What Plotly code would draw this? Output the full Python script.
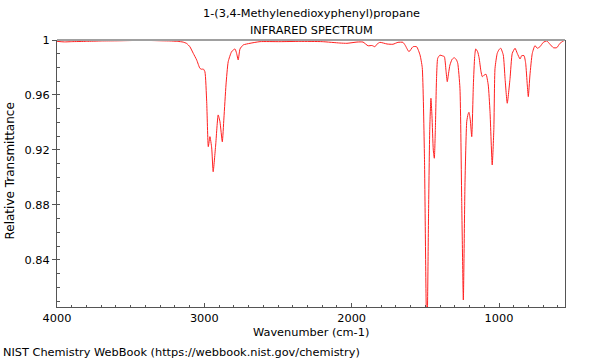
import plotly.graph_objects as go

wavenumber = [4000, 3950, 3900, 3800, 3700, 3600, 3500, 3420, 3350, 3280, 3234, 3180, 3145, 3120, 3098,
              3075, 3052, 3030, 3018, 3007, 2996, 2984, 2973, 2962, 2950, 2940, 2923, 2906, 2894, 2878,
              2867, 2853, 2838, 2815, 2792, 2781, 2770, 2758, 2736, 2690, 2622, 2486, 2351, 2200, 2080,
              2032, 1964, 1923, 1889, 1862, 1842, 1828, 1808, 1760, 1720, 1686, 1652, 1638, 1611, 1584,
              1559, 1536, 1521, 1506, 1493, 1488, 1478, 1470, 1462, 1455, 1446, 1439, 1432, 1424, 1416,
              1401, 1385, 1371, 1360, 1351, 1342, 1333, 1318, 1304, 1290, 1280, 1265, 1253, 1242, 1231,
              1219, 1210, 1204, 1195, 1185, 1174, 1165, 1158, 1145, 1135, 1122, 1113, 1100, 1088, 1073,
              1061, 1046, 1035, 1027, 1012, 1000, 988, 971, 959, 944, 925, 910, 891, 876, 857,
              846, 830, 819, 808, 801, 790, 774, 756, 740, 722, 699, 676, 654, 631, 608,
              586, 563, 552]
transmittance = [0.9990, 0.9986, 0.9988, 0.9990, 0.9993, 0.9994, 0.9996, 0.9998, 0.9996, 0.9994, 0.9993, 0.9990, 0.9985, 0.9975, 0.9951,
                 0.9903, 0.9855, 0.9794, 0.9787, 0.9789, 0.9769, 0.9551, 0.9224, 0.9297, 0.9215, 0.9042, 0.9236, 0.9455, 0.9406, 0.9260,
                 0.9433, 0.9673, 0.9842, 0.9915, 0.9935, 0.9903, 0.9855, 0.9935, 0.9964, 0.9976, 0.9988, 0.9988, 0.9990, 0.9988, 0.9978,
                 0.9976, 0.9985, 0.9985, 0.9958, 0.9960, 0.9951, 0.9970, 0.9983, 0.9971, 0.9969, 0.9983, 0.9983, 0.9964, 0.9915, 0.9951,
                 0.9951, 0.9891, 0.9800, 0.9150, 0.8000, 0.7900, 0.8750, 0.9350, 0.9576, 0.9450, 0.9200, 0.9140, 0.9350, 0.9720, 0.9867,
                 0.9890, 0.9885, 0.9879, 0.9780, 0.9697, 0.9760, 0.9818, 0.9860, 0.9871, 0.9858, 0.9831, 0.9649, 0.8824, 0.8109, 0.8945,
                 0.9406, 0.9460, 0.9474, 0.9420, 0.9297, 0.9673, 0.9880, 0.9935, 0.9915, 0.9870, 0.9769, 0.9733, 0.9745, 0.9751, 0.9673,
                 0.9479, 0.9091, 0.9350, 0.9794, 0.9903, 0.9930, 0.9940, 0.9891, 0.9721, 0.9540, 0.9721, 0.9903, 0.9940, 0.9903, 0.9862,
                 0.9886, 0.9886, 0.9831, 0.9673, 0.9588, 0.9745, 0.9903, 0.9959, 0.9940, 0.9951, 0.9983, 0.9993, 0.9969, 0.9944, 0.9944,
                 0.9976, 0.9993, 1.0000]

x_ticks = [4000, 3000, 2000, 1000]
y_ticks = [1.0, 0.96, 0.92, 0.88, 0.84]
y_tick_labels = ["1", "0.96", "0.92", "0.88", "0.84"]

title_lines = ["1-(3,4-Methylenedioxyphenyl)propane", "INFRARED SPECTRUM"]
x_title = "Wavenumber (cm-1)"
y_title = "Relative Transmittance"
footer = "NIST Chemistry WebBook (https://webbook.nist.gov/chemistry)"

FONT = "DejaVu Sans"
FS = 11.33
fig = go.Figure()
fig.add_trace(go.Scatter(x=wavenumber, y=transmittance, mode="lines",
                         line=dict(color="#ff2020", width=1, shape="spline", smoothing=0.5),
                         hoverinfo="skip", showlegend=False))

fig.update_layout(
    width=600, height=360,
    margin=dict(l=57, r=35, t=40, b=53),
    paper_bgcolor="white", plot_bgcolor="white",
    font=dict(family=FONT, size=FS, color="black"),
    showlegend=False,
)
fig.update_xaxes(range=[4000, 552], autorange=False, showgrid=False, zeroline=False,
                 showline=True, linecolor="#555555", linewidth=1, mirror=False,
                 tickvals=x_ticks, ticks="inside", ticklen=4, tickcolor="#555555",
                 minor=dict(dtick=100, ticks="inside", ticklen=2, tickcolor="#555555"),
                 tickfont=dict(size=FS))
fig.update_yaxes(range=[0.8058, 1.0], autorange=False, showgrid=False, zeroline=False,
                 showline=True, linecolor="#555555", linewidth=1, mirror=True,
                 tickvals=y_ticks, ticktext=y_tick_labels, ticks="outside", ticklen=4,
                 tickcolor="#555555",
                 minor=dict(dtick=0.01, tick0=1.0, ticks="inside", ticklen=3, tickcolor="#555555"),
                 tickfont=dict(size=FS))

fig.add_shape(type="line", xref="paper", yref="paper", x0=0, x1=1, y0=1, y1=1,
              line=dict(color="#a0a0a0", width=2))

fig.add_annotation(text=title_lines[0], xref="paper", yref="paper", x=0.5, y=1.101,
                   showarrow=False, yanchor="middle", font=dict(size=FS))
fig.add_annotation(text=title_lines[1], xref="paper", yref="paper", x=0.5, y=1.0375,
                   showarrow=False, yanchor="middle", font=dict(size=FS))
fig.add_annotation(text=x_title, xref="paper", yref="paper", x=0.5, y=-0.0936,
                   showarrow=False, yanchor="middle", font=dict(size=FS))
fig.add_annotation(text=y_title, xref="paper", yref="paper", x=-0.0925, y=0.5075,
                   textangle=-90, showarrow=False, xanchor="center", yanchor="middle",
                   font=dict(size=12))
fig.add_annotation(text=footer, xref="paper", yref="paper", x=-0.1102, y=-0.1685,
                   showarrow=False, xanchor="left", yanchor="middle", font=dict(size=FS))

fig.write_html("out.html", config={"displayModeBar": False},
               post_script="document.body.style.margin='0';")
